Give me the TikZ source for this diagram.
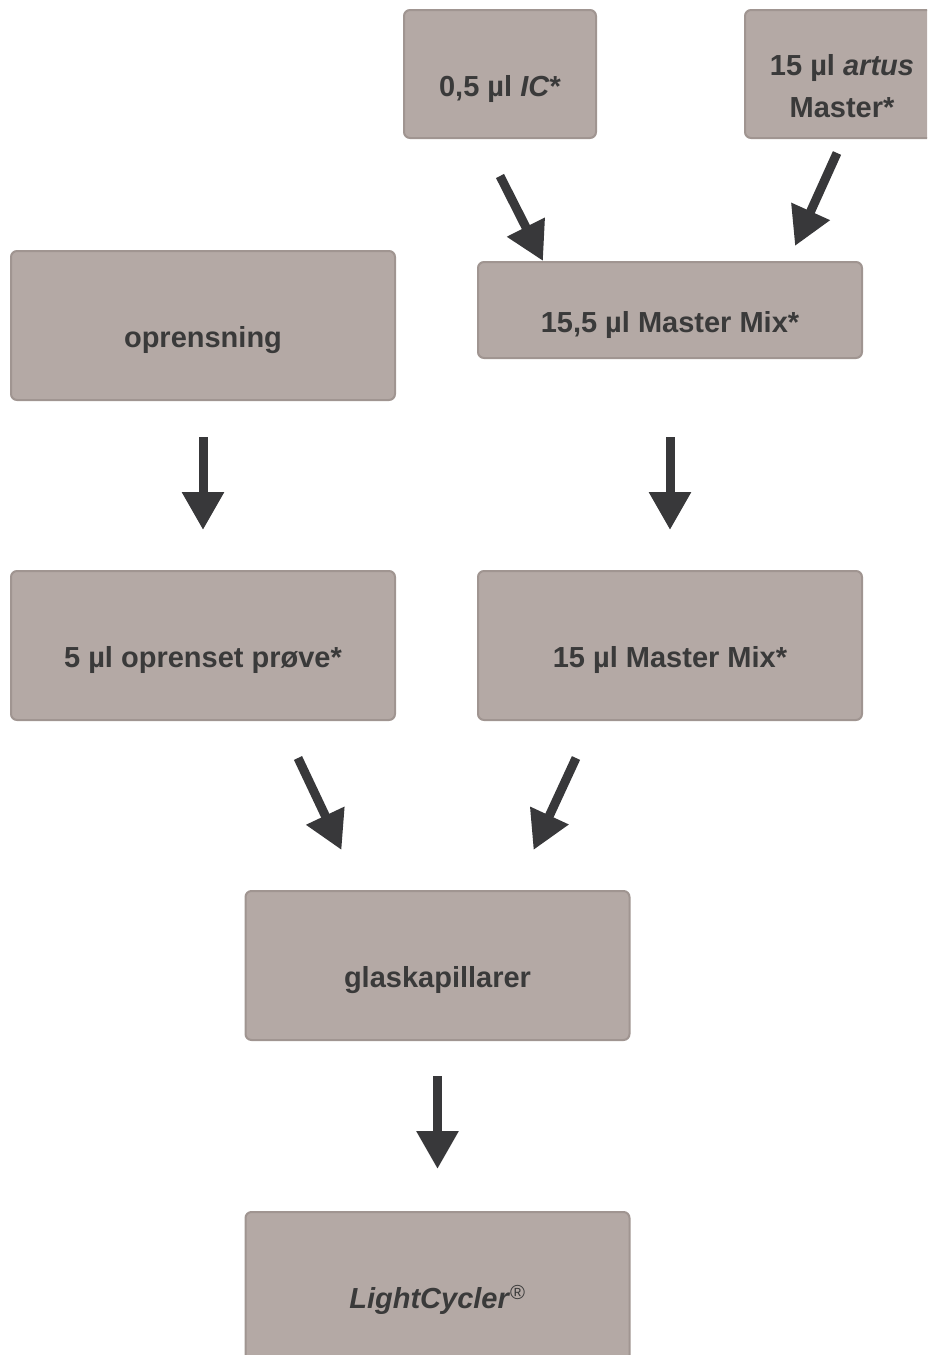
\documentclass[tikz,border=0pt]{standalone}
\usepackage{fontspec}
\setmainfont{Liberation Sans}
\usetikzlibrary{arrows.meta}
\definecolor{boxfill}{RGB}{180,169,165}
\definecolor{boxline}{RGB}{160,149,145}
\definecolor{arrowgray}{RGB}{56,56,58}
\definecolor{textgray}{RGB}{58,58,58}
\tikzset{
  stepbox/.style={draw=boxline, line width=2pt, fill=boxfill, rounded corners=6pt,
    inner sep=0pt, text=textgray, font=\bfseries\fontsize{29pt}{42pt}\selectfont,
    align=center, text height=50pt, text depth=6pt},
  flow/.style={draw=arrowgray, line width=9pt, -{Triangle[length=38pt,width=40pt]}}
}
\begin{document}
\begin{tikzpicture}[x=1pt,y=-1pt]
  \useasboundingbox (0,0) rectangle (927,1355);
  \clip (0,0) rectangle (927,1355);
  \node[stepbox, minimum width=192pt, minimum height=128pt] (ic) at (500,74) {0,5 µl \textit{IC}*};
  \node[stepbox, minimum width=194pt, minimum height=128pt, text height=92pt] (artus) at (842,74) {15 µl \textit{artus}\\Master*};
  \node[stepbox, minimum width=384pt, minimum height=96pt] (mm) at (670,310) {15,5 µl Master Mix*};
  \node[stepbox, minimum width=384pt, minimum height=149pt] (opr) at (203,325.5) {oprensning};
  \node[stepbox, minimum width=384pt, minimum height=149pt] (prove) at (203,645.5) {5 µl oprenset prøve*};
  \node[stepbox, minimum width=384pt, minimum height=149pt] (mm15) at (670,645.5) {15 µl Master Mix*};
  \node[stepbox, minimum width=384pt, minimum height=149pt] (glas) at (437.5,965.5) {glaskapillarer};
  \node[stepbox, minimum width=384pt, minimum height=149pt] (light) at (437.5,1286.5) {\textit{LightCycler}\textsuperscript{\mdseries\upshape ®}};
  \draw[flow] ([yshift=-37pt]ic.south) -- ([xshift=-127pt]mm.north);
  \draw[flow] ([xshift=-5pt,yshift=-14pt]artus.south) -- ([xshift=125pt,yshift=15pt]mm.north);
  \draw[flow, shorten <=36pt, shorten >=40pt] (opr) -- (prove);
  \draw[flow, shorten <=78pt, shorten >=40pt] (mm) -- (mm15);
  \draw[flow] ([xshift=95pt,yshift=-37pt]prove.south) -- ([xshift=-96pt,yshift=40pt]glas.north);
  \draw[flow] ([xshift=-94pt,yshift=-37pt]mm15.south) -- ([xshift=96pt,yshift=40pt]glas.north);
  \draw[flow, shorten <=35pt, shorten >=42pt] (glas) -- (light);
\end{tikzpicture}
\end{document}
